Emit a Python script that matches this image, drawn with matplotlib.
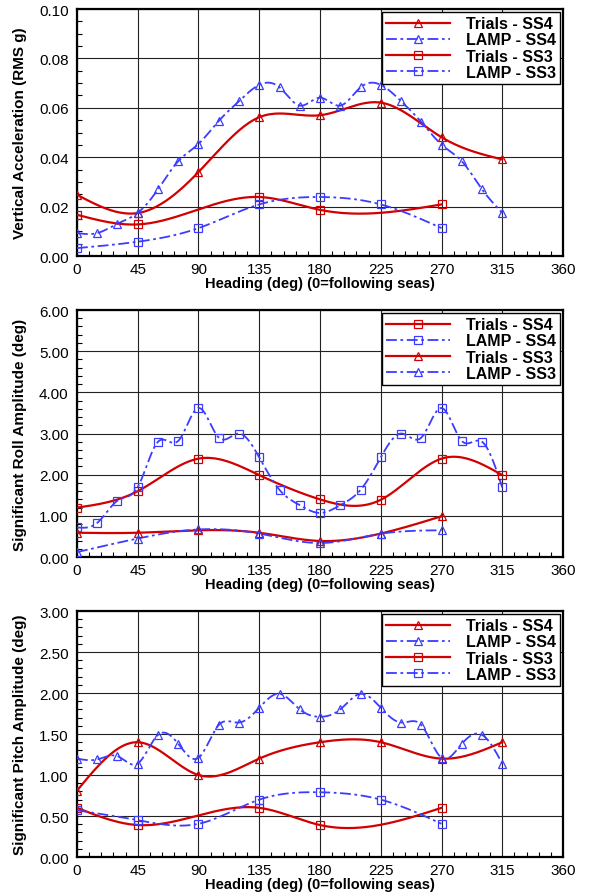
import numpy as np
import matplotlib
matplotlib.use("Agg")
import matplotlib.pyplot as plt
from matplotlib.ticker import MultipleLocator, FormatStrFormatter

plt.rcParams['font.family'] = ['Liberation Sans', 'DejaVu Sans']

# ---------------- data ----------------
hd15 = [0, 15, 30, 45, 60, 75, 90, 105, 120, 135, 150, 165, 180, 195, 210,
        225, 240, 255, 270, 285, 300, 315]
hd45_8 = [0, 45, 90, 135, 180, 225, 270, 315]
hd45_7 = [0, 45, 90, 135, 180, 225, 270]
hd_trials_ss3 = [0, 45, 135, 180, 270]

# Panel 1: vertical acceleration (RMS g)
acc_trials_ss4 = [0.0248, 0.0174, 0.0340, 0.0562, 0.0570, 0.0621, 0.0481, 0.0391]
acc_lamp_ss4 = [0.0093, 0.0093, 0.0131, 0.0175, 0.0270, 0.0384, 0.0454, 0.0547,
                0.0627, 0.0693, 0.0683, 0.0609, 0.0641, 0.0609, 0.0683, 0.0693,
                0.0627, 0.0543, 0.0451, 0.0384, 0.0270, 0.0175]
acc_trials_ss3 = [0.0167, 0.0128, 0.0239, 0.0187, 0.0209]
acc_lamp_ss3 = [0.0032, 0.0058, 0.0113, 0.0209, 0.0239, 0.0209, 0.0113]

# Panel 2: significant roll amplitude (deg)
roll_trials_ss4 = [1.20, 1.60, 2.39, 1.99, 1.40, 1.39, 2.39, 1.99]
roll_lamp_ss4 = [0.72, 0.83, 1.37, 1.70, 2.80, 2.82, 3.62, 2.90, 3.00, 2.42,
                 1.63, 1.26, 1.07, 1.26, 1.63, 2.42, 3.00, 2.90, 3.62, 2.82,
                 2.80, 1.69]
roll_trials_ss3 = [0.59, 0.59, 0.65, 0.59, 0.39, 0.57, 0.99]
roll_lamp_ss3 = [0.12, 0.45, 0.67, 0.57, 0.34, 0.565, 0.65]

# Panel 3: significant pitch amplitude (deg)
pitch_trials_ss4 = [0.81, 1.40, 1.00, 1.20, 1.40, 1.40, 1.20, 1.40]
pitch_lamp_ss4 = [1.20, 1.19, 1.23, 1.14, 1.49, 1.38, 1.21, 1.61, 1.64, 1.82,
                  1.99, 1.80, 1.71, 1.80, 1.99, 1.82, 1.64, 1.61, 1.21, 1.38,
                  1.49, 1.14]
pitch_trials_ss3 = [0.60, 0.39, 0.60, 0.39, 0.60]
pitch_lamp_ss3 = [0.57, 0.45, 0.405, 0.70, 0.79, 0.70, 0.405]

xticks = [0, 45, 90, 135, 180, 225, 270, 315, 360]
x_label = "Heading (deg) (0=following seas)"

RED = "#d20000"
BLUE = "#3c3cff"


def natural_spline(x, y, n=300):
    x = np.asarray(x, float)
    y = np.asarray(y, float)
    m = len(x)
    h = np.diff(x)
    A = np.zeros((m, m))
    b = np.zeros(m)
    A[0, 0] = 1
    A[-1, -1] = 1
    for i in range(1, m - 1):
        A[i, i - 1] = h[i - 1]
        A[i, i] = 2 * (h[i - 1] + h[i])
        A[i, i + 1] = h[i]
        b[i] = 3 * ((y[i + 1] - y[i]) / h[i] - (y[i] - y[i - 1]) / h[i - 1])
    c = np.linalg.solve(A, b)
    xs = np.linspace(x[0], x[-1], n)
    idx = np.clip(np.searchsorted(x, xs) - 1, 0, m - 2)
    dx = xs - x[idx]
    hi = h[idx]
    bb = (y[idx + 1] - y[idx]) / hi - hi * (2 * c[idx] + c[idx + 1]) / 3
    dd = (c[idx + 1] - c[idx]) / (3 * hi)
    ys = y[idx] + bb * dx + c[idx] * dx ** 2 + dd * dx ** 3
    return xs, ys


def series(ax, x, y, kind, marker, label):
    if kind == "trials":
        color, ls, lw = RED, "-", 1.6
    else:
        color, ls, lw = BLUE, (0, (6, 2, 1.5, 2)), 1.3
    xs, ys = natural_spline(x, y)
    ax.plot(xs, ys, color=color, linestyle=ls, linewidth=lw, zorder=3)
    ax.plot(x, y, linestyle="none", marker=marker, markersize=6,
            markerfacecolor="none", markeredgecolor=color,
            markeredgewidth=0.9, zorder=4)
    # legend proxy
    ax.plot([], [], color=color, linestyle=ls, linewidth=lw, marker=marker,
            markersize=5.5, markerfacecolor="none", markeredgecolor=color,
            markeredgewidth=0.9, label=label)


fig = plt.figure(figsize=(6.11, 8.95), dpi=100)
left, width = 0.126, 0.7955
rects = [(left, 0.7128, width, 0.2760),
         (left, 0.3765, width, 0.2760),
         (left, 0.0413, width, 0.2749)]

panels = [
    dict(ylabel="Vertical Acceleration (RMS g)", ylim=(0, 0.10), major=0.02,
         minor=0.005,
         s=[(hd45_8, acc_trials_ss4, "trials", "^", "Trials - SS4"),
            (hd15, acc_lamp_ss4, "lamp", "^", "LAMP - SS4"),
            (hd_trials_ss3, acc_trials_ss3, "trials", "s", "Trials - SS3"),
            (hd45_7, acc_lamp_ss3, "lamp", "s", "LAMP - SS3")]),
    dict(ylabel="Significant Roll Amplitude (deg)", ylim=(0, 6.0), major=1.0,
         minor=0.2,
         s=[(hd45_8, roll_trials_ss4, "trials", "s", "Trials - SS4"),
            (hd15, roll_lamp_ss4, "lamp", "s", "LAMP - SS4"),
            (hd45_7, roll_trials_ss3, "trials", "^", "Trials - SS3"),
            (hd45_7, roll_lamp_ss3, "lamp", "^", "LAMP - SS3")]),
    dict(ylabel="Significant Pitch Amplitude (deg)", ylim=(0, 3.0), major=0.5,
         minor=0.1,
         s=[(hd45_8, pitch_trials_ss4, "trials", "^", "Trials - SS4"),
            (hd15, pitch_lamp_ss4, "lamp", "^", "LAMP - SS4"),
            (hd_trials_ss3, pitch_trials_ss3, "trials", "s", "Trials - SS3"),
            (hd45_7, pitch_lamp_ss3, "lamp", "s", "LAMP - SS3")]),
]

for rect, p in zip(rects, panels):
    ax = fig.add_axes(rect)
    for (x, y, kind, mk, lab) in p["s"]:
        series(ax, x, y, kind, mk, lab)
    ax.set_xlim(0, 360)
    ax.set_ylim(*p["ylim"])
    ax.set_xticks(xticks)
    ax.xaxis.set_minor_locator(MultipleLocator(9))
    ax.yaxis.set_major_locator(MultipleLocator(p["major"]))
    ax.yaxis.set_minor_locator(MultipleLocator(p["minor"]))
    ax.yaxis.set_major_formatter(FormatStrFormatter("%.2f"))
    ax.grid(True, which="major", color="#222222", linewidth=0.8, zorder=0)
    ax.tick_params(which="both", direction="in", labelsize=11)
    ax.tick_params(axis="y", which="major", length=0, pad=6)
    ax.tick_params(axis="x", which="major", length=0, pad=4)
    ax.tick_params(which="minor", length=3.5, width=0.8)
    for sp in ax.spines.values():
        sp.set_linewidth(1.6)
    ax.set_xlabel(x_label, fontsize=10.5, fontweight="bold", labelpad=0)
    ax.set_ylabel(p["ylabel"], fontsize=11, fontweight="bold", labelpad=9)
    leg = ax.legend(loc="upper right", frameon=True,
                    fancybox=False, edgecolor="black", framealpha=1,
                    handlelength=4.0, handletextpad=1.0, labelspacing=0.08,
                    borderpad=0.25, borderaxespad=0.2,
                    prop=dict(weight="bold", size=11.5))
    leg.get_frame().set_linewidth(1.0)
    leg.set_zorder(10)

fig.savefig("out.png", dpi=100)
